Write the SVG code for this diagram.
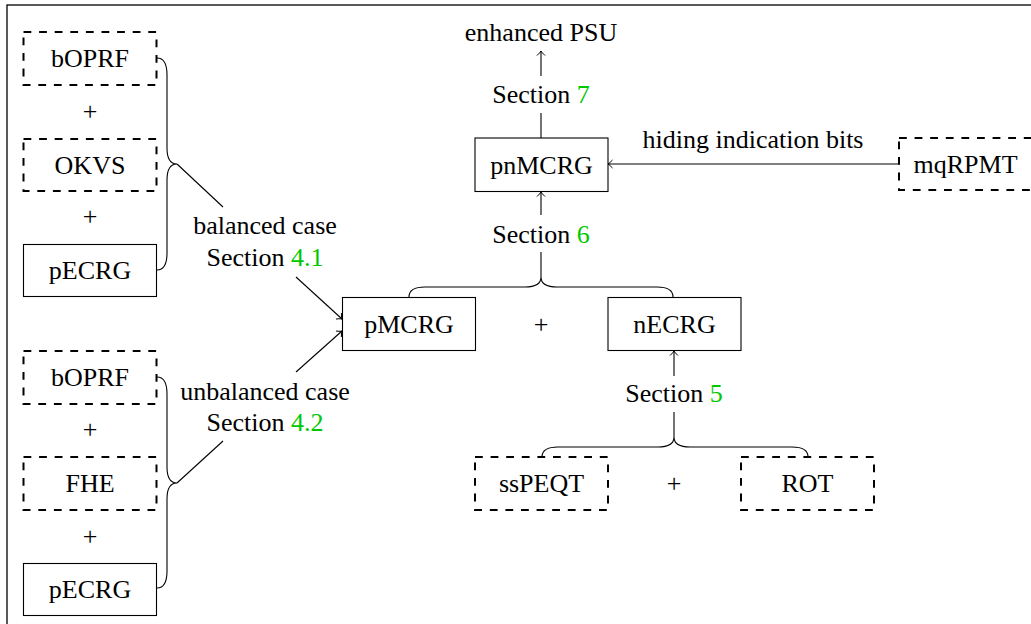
<svg xmlns="http://www.w3.org/2000/svg" width="1031" height="624" viewBox="0 0 1031 624">
<style>
text{font-family:'Liberation Serif','Times New Roman',serif;font-size:26px;fill:#000;text-anchor:middle}
.g{fill:#00c800}
.solid{fill:#fff;stroke:#000;stroke-width:1.1}
.dash{fill:#fff;stroke:#000;stroke-width:2;stroke-dasharray:7.8 7.8}
.ln{fill:none;stroke:#000;stroke-width:1.1}
.ar{fill:none;stroke:#000;stroke-width:1.1;marker-end:url(#ah)}
</style>
<defs>
<marker id="ah" markerUnits="userSpaceOnUse" markerWidth="12" markerHeight="12" viewBox="-6 -6 12 12" refX="0" refY="0" orient="auto">
<path d="M-4.5,-4 Q-1.5,-0.8 0,0 Q-1.5,0.8 -4.5,4" fill="none" stroke="#000" stroke-width="1"/>
</marker>
</defs>
<rect x="7" y="5" width="1040" height="640" fill="#fff" stroke="#000" stroke-width="1.3"/>
<g id="connectors">
<path class="ln" d="M157,58 Q167,58 167,75 L167,148 Q167,164 177,164 Q167,164 167,180 L167,253 Q167,270 157,270"/>
<path class="ln" d="M157,377 Q167,377 167,394 L167,467 Q167,483 177,483 Q167,483 167,499 L167,571 Q167,588 157,588"/>
<path class="ln" d="M409,297 Q409,287 425,287 L525,287 Q541,287 541,277 Q541,287 557,287 L657,287 Q673,287 673,297"/>
<path class="ln" d="M542,457 Q542,447 558,447 L658,447 Q674,447 674,437 Q674,447 690,447 L792,447 Q808,447 808,457"/>
<line class="ln" x1="177" y1="164" x2="223" y2="207"/>
<line class="ar" x1="296" y1="277" x2="342" y2="319"/>
<line class="ln" x1="177" y1="483" x2="223" y2="441"/>
<line class="ar" x1="296" y1="372" x2="342" y2="331"/>
<line class="ln" x1="541" y1="277" x2="541" y2="252"/>
<line class="ar" x1="541" y1="215" x2="541" y2="192"/>
<line class="ln" x1="541" y1="138" x2="541" y2="113"/>
<line class="ar" x1="541" y1="76" x2="541" y2="51"/>
<line class="ar" x1="899" y1="164" x2="608" y2="164"/>
<line class="ln" x1="674" y1="437" x2="674" y2="412"/>
<line class="ar" x1="674" y1="376" x2="674" y2="351"/>
</g>
<g id="labels">
<text x="541" y="41">enhanced PSU</text>
<text x="541" y="103">Section <tspan class="g">7</tspan></text>
<text x="541" y="243">Section <tspan class="g">6</tspan></text>
<text x="674" y="402">Section <tspan class="g">5</tspan></text>
<text x="265" y="234">balanced case</text>
<text x="265" y="266">Section <tspan class="g">4.1</tspan></text>
<text x="265" y="400">unbalanced case</text>
<text x="265" y="431">Section <tspan class="g">4.2</tspan></text>
<text x="753" y="148">hiding indication bits</text>
<text x="90" y="120">+</text>
<text x="90" y="225">+</text>
<text x="90" y="438">+</text>
<text x="90" y="545">+</text>
<text x="541" y="333">+</text>
<text x="674" y="492">+</text>
</g>
<g id="bOPRF1"><rect class="dash" x="23.5" y="32" width="133" height="53"/><text x="90" y="67">bOPRF</text></g>
<g id="OKVS"><rect class="dash" x="23.5" y="139" width="133" height="52"/><text x="90" y="174">OKVS</text></g>
<g id="pECRG1"><rect class="solid" x="23.5" y="244.5" width="133" height="52"/><text x="90" y="279">pECRG</text></g>
<g id="bOPRF2"><rect class="dash" x="23.5" y="351" width="133" height="53"/><text x="90" y="386">bOPRF</text></g>
<g id="FHE"><rect class="dash" x="23.5" y="457" width="133" height="53"/><text x="90" y="492">FHE</text></g>
<g id="pECRG2"><rect class="solid" x="23.5" y="563.5" width="133" height="52"/><text x="90" y="598">pECRG</text></g>
<g id="pMCRG"><rect class="solid" x="342.5" y="297.5" width="133" height="53"/><text x="409" y="333">pMCRG</text></g>
<g id="nECRG"><rect class="solid" x="608" y="297.5" width="133" height="53"/><text x="674.5" y="333">nECRG</text></g>
<g id="pnMCRG"><rect class="solid" x="475" y="138" width="133" height="53.5"/><text x="541.5" y="174">pnMCRG</text></g>
<g id="mqRPMT"><rect class="dash" x="899" y="138" width="133" height="52"/><text x="965.5" y="173">mqRPMT</text></g>
<g id="ssPEQT"><rect class="dash" x="475" y="457" width="133" height="53"/><text x="541.5" y="492">ssPEQT</text></g>
<g id="ROT"><rect class="dash" x="741" y="457" width="133" height="53"/><text x="807.5" y="492">ROT</text></g>
</svg>
